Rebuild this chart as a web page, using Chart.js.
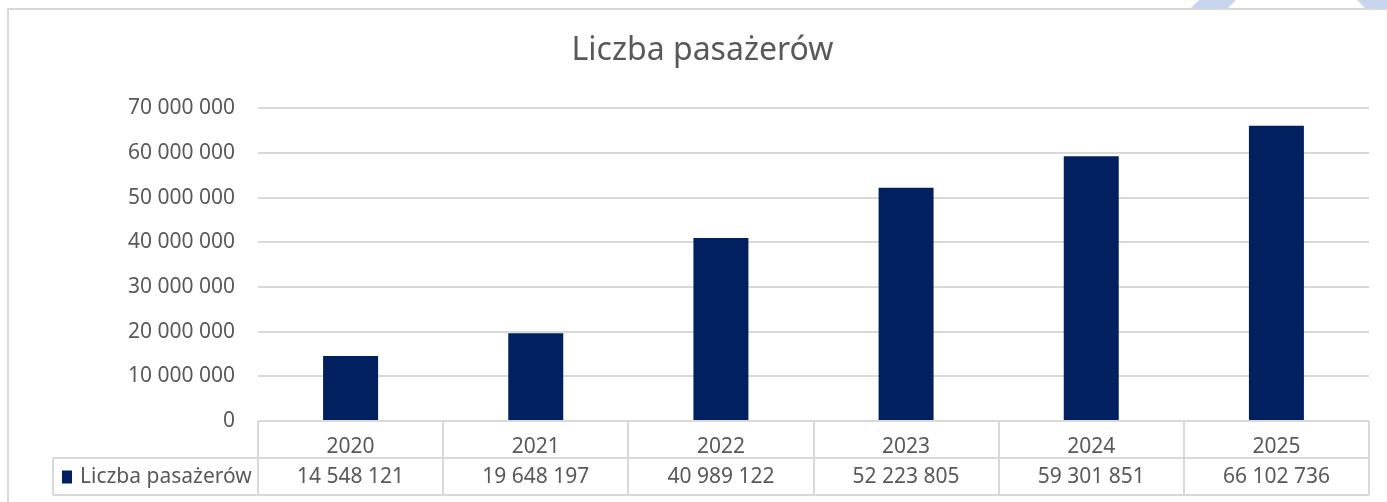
<!DOCTYPE html>
<html lang="pl">
<head>
<meta charset="utf-8">
<title>Liczba pasażerów</title>
<script src="https://cdn.jsdelivr.net/npm/chart.js@4.4.1/dist/chart.umd.min.js"></script>
<style>
  html, body { margin: 0; padding: 0; background: #fff; overflow: hidden; }
  .stage { position: relative; width: 1387px; height: 502px; }
  .deco { position: absolute; top: 0; height: 9px; background: #c7d5ef; }
  .deco-a { left: 1190px; width: 46px; clip-path: polygon(9px 0, 46px 0, 37px 100%, 0 100%); }
  .deco-b { left: 1357px; width: 30px; clip-path: polygon(0 0, 100% 0, 100% 100%, 9px 100%); }
  .frame { position: absolute; left: 7px; top: 8px; width: 1400px; height: 520px;
           border: 2px solid #d9d9d9; box-sizing: border-box; }
  canvas { position: absolute; left: 0; top: 0; }
</style>
</head>
<body>
<div class="stage">
  <div class="deco deco-a"></div>
  <div class="deco deco-b"></div>
  <div class="frame"></div>
  <canvas id="chart" width="1387" height="502"></canvas>
</div>
<script>
// ===== Data =====
const years      = ['2020', '2021', '2022', '2023', '2024', '2025'];
const passengers = [14548121, 19648197, 40989122, 52223805, 59301851, 66102736];
const seriesName = 'Liczba pasażerów';

// ===== Styles =====
const TEXT  = '#595959';
const GRID  = '#d9d9d9';
const BAR   = '#002060';
const FONT  = "'Noto Sans', 'Open Sans', sans-serif";

function fmt(n) {
  return String(Math.round(n)).replace(/\B(?=(\d{3})+(?!\d))/g, ' ');
}

// Data table under the x axis (Excel style)
const dataTable = {
  id: 'dataTable',
  afterDraw(chart) {
    const { ctx, chartArea, scales } = chart;
    const x = scales.x;
    const top = chartArea.bottom;
    const mid = top + 37;
    const bot = top + 74;
    const legendLeft = 53;
    const step = x.width / years.length;

    ctx.save();
    ctx.strokeStyle = GRID;
    ctx.lineWidth = 2;
    ctx.beginPath();
    // horizontal
    ctx.moveTo(chartArea.left, top);  ctx.lineTo(chartArea.right, top);
    ctx.moveTo(legendLeft, mid);      ctx.lineTo(chartArea.right, mid);
    ctx.moveTo(legendLeft, bot);      ctx.lineTo(chartArea.right, bot);
    // vertical
    ctx.moveTo(legendLeft, mid);      ctx.lineTo(legendLeft, bot);
    for (let i = 0; i <= years.length; i++) {
      const px = Math.round(x.left + i * step);
      ctx.moveTo(px, top); ctx.lineTo(px, bot);
    }
    ctx.stroke();

    // values row
    ctx.fillStyle = TEXT;
    ctx.font = '21px ' + FONT;
    ctx.textAlign = 'center';
    ctx.textBaseline = 'middle';
    passengers.forEach((v, i) => {
      ctx.fillText(fmt(v), x.getPixelForValue(i), (mid + bot) / 2 + 1);
    });

    // legend key
    ctx.fillStyle = BAR;
    ctx.fillRect(62, (mid + bot) / 2 - 6, 10, 13);
    ctx.fillStyle = TEXT;
    ctx.textAlign = 'left';
    ctx.fillText(seriesName, 80, (mid + bot) / 2 + 1);
    ctx.restore();
  }
};

new Chart(document.getElementById('chart'), {
  type: 'bar',
  data: {
    labels: years,
    datasets: [{
      label: seriesName,
      data: passengers,
      backgroundColor: BAR,
      borderWidth: 0,
      categoryPercentage: 1,
      barPercentage: 0.297,
    }],
  },
  options: {
    responsive: false,
    animation: false,
    layout: { padding: { left: 36, right: 18, top: 0, bottom: 6 } },
    plugins: {
      legend: { display: false },
      tooltip: { enabled: false },
      title: {
        display: true,
        text: seriesName,
        color: TEXT,
        font: { family: FONT, size: 32, weight: 'normal' },
        padding: { top: 32, bottom: 38 },
      },
    },
    scales: {
      x: {
        grid: { display: false },
        border: { display: false },
        ticks: { color: TEXT, font: { family: FONT, size: 21 }, padding: 5 },
        afterFit: (s) => { s.height = 75; },
      },
      y: {
        min: 0,
        max: 70000000,
        border: { display: false },
        grid: { color: GRID, lineWidth: 2, drawTicks: false },
        ticks: {
          stepSize: 10000000,
          color: TEXT,
          font: { family: FONT, size: 21 },
          padding: 23,
          callback: (v) => fmt(v),
        },
        afterFit: (s) => { s.width = 222; },
      },
    },
  },
  plugins: [dataTable],
});
</script>
</body>
</html>
